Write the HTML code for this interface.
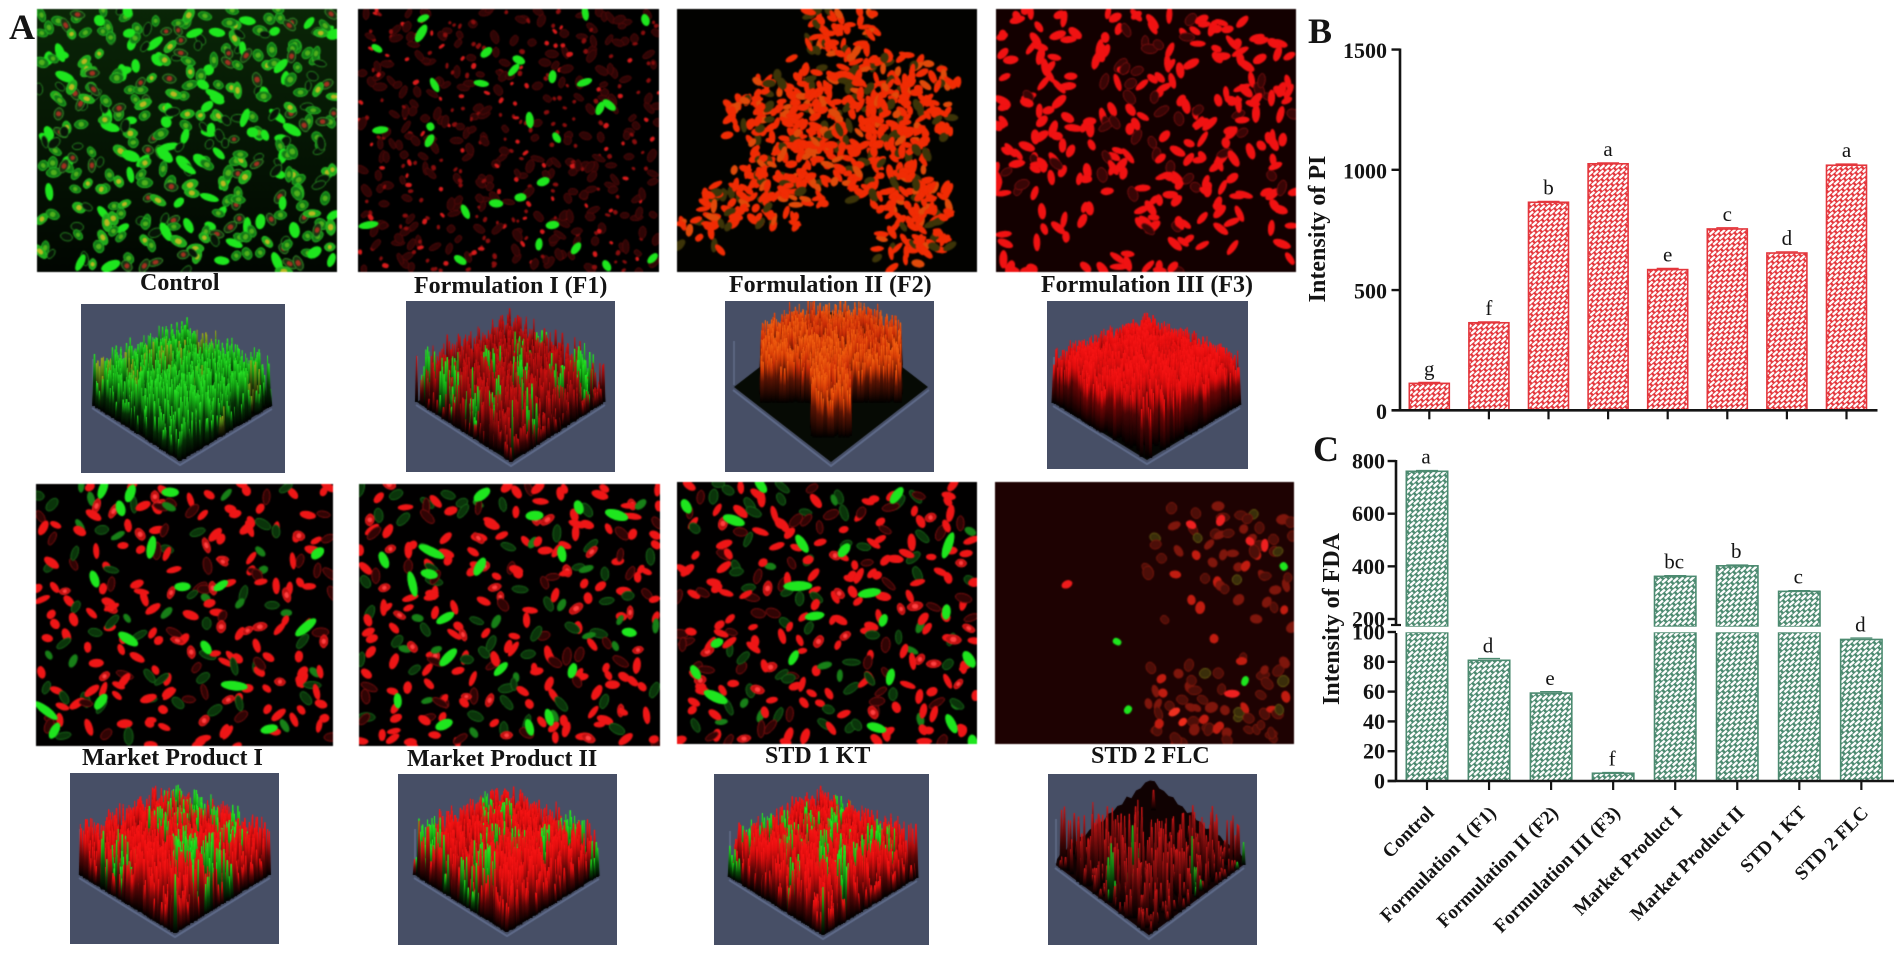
<!DOCTYPE html>
<html lang="en">
<head>
<meta charset="utf-8">
<title>Fluorescence micrographs and intensity of PI and FDA</title>
<style>
html,body{margin:0;padding:0;background:#fff;width:1902px;height:953px;overflow:hidden}
#figure{position:relative;width:1902px;height:953px;background:#fff;font-family:"Liberation Serif",serif}
canvas{position:absolute;display:block}
canvas.m{filter:blur(.55px)}
canvas.p{filter:blur(.35px)}
#overlay{position:absolute;left:0;top:0}
#overlay text{font-family:"Liberation Serif",serif;fill:#141414}
.cap{font-size:24px;font-weight:700}
.pl{font-size:36px;font-weight:700}
.tk{font-size:22px;font-weight:700}
.tt{font-size:24px;font-weight:700}
.lt{font-size:21px;font-weight:400}
.xl{font-size:19.2px;font-weight:700}
</style>
</head>
<body>
<div id="figure">
<canvas class="m" id="m0" width="300" height="263" style="left:37px;top:9px"></canvas>
<canvas class="m" id="m1" width="301" height="263" style="left:358px;top:9px"></canvas>
<canvas class="m" id="m2" width="300" height="263" style="left:677px;top:9px"></canvas>
<canvas class="m" id="m3" width="300" height="263" style="left:996px;top:9px"></canvas>
<canvas class="m" id="m4" width="297" height="262" style="left:36px;top:484px"></canvas>
<canvas class="m" id="m5" width="301" height="262" style="left:359px;top:484px"></canvas>
<canvas class="m" id="m6" width="300" height="262" style="left:677px;top:482px"></canvas>
<canvas class="m" id="m7" width="299" height="262" style="left:995px;top:482px"></canvas>

<canvas class="p" id="p0" width="204" height="169" style="left:81px;top:304px"></canvas>
<canvas class="p" id="p1" width="209" height="171" style="left:406px;top:301px"></canvas>
<canvas class="p" id="p2" width="209" height="171" style="left:725px;top:301px"></canvas>
<canvas class="p" id="p3" width="201" height="168" style="left:1047px;top:301px"></canvas>
<canvas class="p" id="p4" width="209" height="171" style="left:70px;top:773px"></canvas>
<canvas class="p" id="p5" width="219" height="171" style="left:398px;top:774px"></canvas>
<canvas class="p" id="p6" width="215" height="171" style="left:714px;top:774px"></canvas>
<canvas class="p" id="p7" width="209" height="171" style="left:1048px;top:774px"></canvas>

<svg id="overlay" width="1902" height="953" viewBox="0 0 1902 953" xmlns="http://www.w3.org/2000/svg">
<defs>
<pattern id="hatch-red" width="8.4" height="6.6" patternUnits="userSpaceOnUse" patternTransform="rotate(-42)">
<rect width="8.4" height="6.6" fill="#e4363c"/>
<rect x="0.6" y="0.5" width="6" height="2.3" fill="#fff"/>
<rect x="4.8" y="3.8" width="6" height="2.3" fill="#fff"/>
<rect x="-3.6" y="3.8" width="6" height="2.3" fill="#fff"/>
</pattern>
<pattern id="hatch-green" width="8.8" height="6.8" patternUnits="userSpaceOnUse" patternTransform="rotate(-42)">
<rect width="8.8" height="6.8" fill="#4c8a70"/>
<rect x="0.6" y="0.5" width="6.2" height="2.4" fill="#fff"/>
<rect x="5" y="3.9" width="6.2" height="2.4" fill="#fff"/>
<rect x="-3.8" y="3.9" width="6.2" height="2.4" fill="#fff"/>
</pattern>
</defs>

<text class="pl" x="9" y="39">A</text>
<text class="pl" x="1308" y="43">B</text>
<text class="pl" x="1313" y="461">C</text>

<text class="cap" x="140" y="290">Control</text>
<text class="cap" x="414" y="293">Formulation I (F1)</text>
<text class="cap" x="729" y="292">Formulation II (F2)</text>
<text class="cap" x="1041" y="292">Formulation III (F3)</text>
<text class="cap" x="82" y="765">Market Product I</text>
<text class="cap" x="407" y="766">Market Product II</text>
<text class="cap" x="765" y="763">STD 1 KT</text>
<text class="cap" x="1091" y="763">STD 2 FLC</text>

<text class="tt" transform="translate(1325,229) rotate(-90)" text-anchor="middle">Intensity of PI</text>
<text class="tt" transform="translate(1339,619) rotate(-90)" text-anchor="middle">Intensity of FDA</text>

<g id="chart-b"></g>
<g id="chart-c"></g>
</svg>
</div>

<script>
/* ---------- chart data ---------- */
const categories = ['Control','Formulation I (F1)','Formulation II (F2)','Formulation III (F3)','Market Product I','Market Product II','STD 1 KT','STD 2 FLC'];
const piValues = [112,364,865,1025,585,754,654,1019];
const piErrors = [4,4,4,4,5,5,5,5];
const piLetters = ['g','f','b','a','e','c','d','a'];
const piTicks = [0,500,1000,1500];
const fdaValues = [761,81,59,5.2,362,402,305,95];
const fdaErrors = [3,1.2,1,0.5,3,3,3,1];
const fdaLetters = ['a','d','e','f','bc','b','c','d'];
const fdaLowTicks = [0,20,40,60,80,100];
const fdaHighTicks = [200,400,600,800];

/* ---------- axis functions ---------- */
function xPI(i){return 1429.3+i*59.6;}
function yPI(v){return 410.3-v*0.2405;}
function xFDA(i){return 1427+i*62.05;}
function yFDALow(v){return 781-v*1.49;}
function yFDAHigh(v){return 619-(v-200)*0.2633;}
function yFDA(v){return v<=100?yFDALow(v):yFDAHigh(v);}

const SVGNS='http://www.w3.org/2000/svg';
const AX='#141414';
function mk(parent,tag,attrs,txt){
  const el=document.createElementNS(SVGNS,tag);
  for(const k in attrs){el.setAttribute(k,attrs[k]);}
  if(txt!==undefined){el.textContent=txt;}
  parent.appendChild(el);
  return el;
}

/* ---------- chart B ---------- */
(function(){
  const g=document.getElementById('chart-b');
  const bw=40;
  piValues.forEach(function(v,i){
    const x=xPI(i),y=yPI(v);
    const bar=mk(g,'rect',{x:x-bw/2,y:y,width:bw,height:yPI(0)-y,fill:'url(#hatch-red)',stroke:'#e4363c','stroke-width':1.6});
    
    
    const cap=mk(g,'line',{x1:x-11,x2:x+11,y1:yPI(v+piErrors[i]),y2:yPI(v+piErrors[i]),stroke:'#e4363c','stroke-width':1.2});
    
    
    const lt=mk(g,'text',{x:x,y:y-8,'text-anchor':'middle','class':'lt'},piLetters[i]);
    
    
    const tk=mk(g,'line',{x1:x,x2:x,y1:yPI(0),y2:yPI(0)+9,stroke:AX,'stroke-width':2.2});
    
    
  });
  const ya=mk(g,'line',{x1:1400,x2:1400,y1:yPI(1500)-1,y2:yPI(0)+1,stroke:AX,'stroke-width':2.6});
  
  
  const xa=mk(g,'line',{x1:1391.5,x2:1877.5,y1:yPI(0),y2:yPI(0),stroke:AX,'stroke-width':2.6});
  
  
  piTicks.forEach(function(t){
    const y=yPI(t);
    const l=mk(g,'line',{x1:1391.5,x2:1400,y1:y,y2:y,stroke:AX,'stroke-width':2.4});
    
    
    const tx=mk(g,'text',{x:1387,y:y+8.5,'text-anchor':'end','class':'tk'},String(t));
    
    
  });
})();

/* ---------- chart C ---------- */
(function(){
  const g=document.getElementById('chart-c');
  const bw=41.4,breakTop=626.7,breakBottom=632.3;
  fdaValues.forEach(function(v,i){
    const x=xFDA(i);
    const lowTop=v>100?breakBottom:yFDALow(v);
    const bar=mk(g,'rect',{x:x-bw/2,y:lowTop,width:bw,height:yFDALow(0)-lowTop,fill:'url(#hatch-green)',stroke:'#4c8a70','stroke-width':1.6});
    
    
    if(v>100){
      const up=yFDAHigh(v);
      const barHigh=mk(g,'rect',{x:x-bw/2,y:up,width:bw,height:breakTop-up,fill:'url(#hatch-green)',stroke:'#4c8a70','stroke-width':1.6});
      
      
      const wipe=mk(g,'rect',{x:x-bw/2-2,y:breakTop,width:bw+4,height:breakBottom-breakTop,fill:'#fff'});
      
      
    }
    const capY=yFDA(v+fdaErrors[i]);
    const cap=mk(g,'line',{x1:x-11,x2:x+11,y1:capY,y2:capY,stroke:'#4c8a70','stroke-width':1.2});
    
    
    const lt=mk(g,'text',{x:x-1,y:yFDA(v)-8,'text-anchor':'middle','class':'lt'},fdaLetters[i]);
    
    
    const tk=mk(g,'line',{x1:x,x2:x,y1:yFDALow(0),y2:yFDALow(0)+9,stroke:AX,'stroke-width':2.2});
    
    
    const xl=mk(g,'text',{transform:'translate('+(x+8)+',814) rotate(-45)','text-anchor':'end','class':'xl'},categories[i]);
    
    
  });
  const yaHigh=mk(g,'line',{x1:1396,x2:1396,y1:yFDAHigh(800)-1,y2:625,stroke:AX,'stroke-width':2.6});
  
  
  const yaLow=mk(g,'line',{x1:1396,x2:1396,y1:633,y2:yFDALow(0)+1,stroke:AX,'stroke-width':2.6});
  
  
  const xa=mk(g,'line',{x1:1387.6,x2:1894,y1:yFDALow(0),y2:yFDALow(0),stroke:AX,'stroke-width':2.6});
  
  
  const bk1=mk(g,'line',{x1:1391,x2:1401,y1:625,y2:625,stroke:AX,'stroke-width':2.2});
  
  
  fdaHighTicks.forEach(function(t){
    const y=yFDAHigh(t);
    const l=mk(g,'line',{x1:1387.6,x2:1396,y1:y,y2:y,stroke:AX,'stroke-width':2.4});
    
    
    const tx=mk(g,'text',{x:1385,y:y+7.5,'text-anchor':'end','class':'tk'},String(t));
    
    
  });
  fdaLowTicks.forEach(function(t){
    const y=yFDALow(t);
    const l=mk(g,'line',{x1:1387.6,x2:1396,y1:y,y2:y,stroke:AX,'stroke-width':2.4});
    
    
    const tx=mk(g,'text',{x:1385,y:y+7.5,'text-anchor':'end','class':'tk'},String(t));
    
    
  });
})();

/* ---------- photographic panels: decorative texture only, not chart data ---------- */
function rng(a){return function(){a|=0;a=a+0x6D2B79F5|0;let t=Math.imul(a^a>>>15,1|a);t=t+Math.imul(t^t>>>7,61|t)^t;return((t^t>>>14)>>>0)/4294967296;};}

function cell(ctx,x,y,L,W,ang,t){
  ctx.beginPath();
  ctx.ellipse(x,y,L/2,W/2,ang,0,Math.PI*2);
  if(t.fill){ctx.fillStyle=t.fill;ctx.fill();}
  if(t.stroke){ctx.strokeStyle=t.stroke;ctx.lineWidth=t.lw||1;ctx.stroke();}
  if(t.core){
    ctx.beginPath();
    ctx.ellipse(x,y,L/5,W/3.4,ang,0,Math.PI*2);
    ctx.fillStyle=t.core;ctx.fill();
  }
}
function pick(r,types){
  let v=r(),s=0;
  for(const t of types){s+=t.p;if(v<=s){return t;}}
  return types[types.length-1];
}
function micro(id,o){
  const c=document.getElementById(id),ctx=c.getContext('2d'),W=c.width,H=c.height,r=rng(o.seed);
  if(o.bg2){const g=ctx.createLinearGradient(0,0,0,H);g.addColorStop(0,o.bg);g.addColorStop(1,o.bg2);ctx.fillStyle=g;}else{ctx.fillStyle=o.bg;}
  ctx.fillRect(0,0,W,H);
  const rows=o.grid.length,cols=o.grid[0].length,gw=W/cols,gh=H/rows;
  for(let j=0;j<rows;j++){for(let i=0;i<cols;i++){
    const d=+o.grid[j][i]*o.k;
    let n=Math.floor(d);if(r()<d-n){n++;}
    for(let q=0;q<n;q++){
      const t=pick(r,o.types);
      const L=t.len[0]+r()*(t.len[1]-t.len[0]),Wd=t.wid[0]+r()*(t.wid[1]-t.wid[0]);
      cell(ctx,(i+r())*gw,(j+r())*gh,L,Wd,r()*Math.PI,t);
    }
  }}
  if(o.fixed){o.fixed.forEach(function(f){
    const x=(f[0]-o.ox)/2.376,y=(f[1]-o.oy)/3;
    const big=f[2]||1;
    const col=f[3]||'#1ee61e';
    const s=o.fs||1;
    cell(ctx,x,y,(14+r()*5)*big*s,(8+r()*2)*(big>1?1.05:1)*s,r()*Math.PI,{fill:col});
  });}
}
const gC='#1ee61e';
micro('m0',{seed:11,bg:'#0a2607',bg2:'#010601',k:.36,grid:[
'888888888888','888888888888','888888888888','888888888888','888888888888','777888888888','777788888888','888888888888','445666887777','556666777777','556676777777','456666666677'],
types:[
{p:.20,fill:gC,len:[11,21],wid:[7,11]},
{p:.20,fill:'#1fa81c',stroke:'#2cc826',len:[10,18],wid:[7,10],core:'#b8b820'},
{p:.30,fill:'#127a16',stroke:'#28b824',len:[10,16],wid:[7,10],core:'#50b01c'},
{p:.14,fill:'#1a3212',stroke:'#389a2c',len:[10,16],wid:[7,9],core:'#a03020'},
{p:.16,fill:'#071407',stroke:'#288a22',len:[9,15],wid:[6,9]}]});
micro('m1',{seed:23,bg:'#000',k:.7,grid:[
'555555555555','555555555555','555555555555','555555555555','555555555555','555555555555','555555555555','555555555555','555555555555','555555555555','555555555555','555555555555'],
types:[
{p:.5,fill:'#2e0505',stroke:'#520a0a',len:[8,14],wid:[5,8]},
{p:.34,fill:'#8a0e0e',len:[3,6],wid:[3,5]},
{p:.16,fill:'#d81c1c',len:[4,7],wid:[3,5]}],
ox:850,oy:27,fs:.85,fixed:[[1005,55],[1000,100,1.4],[895,145],[1155,157],[1232,180],[1220,210],[1312,230],[1143,250],[1032,255],[1388,247,1.2],[1258,360,1.2],[1425,325],[1447,315],[903,390,1.2],[1022,380,.6],[1020,422],[1322,413],[1290,545],[1236,592],[1178,610],[1105,635],[875,675,1.3],[1312,675],[1280,733],[1093,780,1.1],[1441,797],[1368,745],[1533,60],[1390,40],[1550,775]]});
micro('m2',{seed:37,bg:'#020200',k:1.5,grid:[
'000007750000','000006650000','000013577520','000788888851','008888888880','005888888860','000788888800','003888767700','088885067880','388830005880','220000005880','000000002300'],
types:[
{p:.72,fill:'#f02c04',len:[9,16],wid:[5,8]},
{p:.12,fill:'#e04a0a',len:[9,15],wid:[5,8]},
{p:.16,fill:'#3c3408',len:[10,16],wid:[6,9]}]});
micro('m3',{seed:41,bg:'#130000',k:.46,grid:[
'575157737511','475373753754','453167353353','267135731777','557157555788','763787337834','776362767655','887774777216','750126787638','115507787318','553001373102','760176640001'],
types:[
{p:.8,fill:'#f01212',len:[11,19],wid:[6,9]},
{p:.2,fill:'#380505',stroke:'#7a1010',len:[11,17],wid:[7,10]}]});
const mixTypes=[
{p:.52,fill:'#ee1616',len:[10,18],wid:[6,9]},
{p:.16,fill:'#300404',stroke:'#801010',len:[12,18],wid:[6,9]},
{p:.16,fill:'#0a340a',stroke:'#1a6a1a',len:[12,18],wid:[6,9]},
{p:.10,fill:'#c01010',stroke:'#ee2020',len:[10,16],wid:[6,9],core:'#ff4040'},
{p:.06,fill:'#188018',len:[10,16],wid:[6,8]}];
const allSix=['666666666666','666666666666','666666666666','666666666666','666666666666','666666666666','666666666666','666666666666','666666666666','666666666666','666666666666','666666666666'];
micro('m4',{seed:53,bg:'#010000',k:.29,grid:allSix,types:mixTypes,ox:86,oy:40,fixed:[[245,55,1.3],[310,68,1.2],[287,113],[360,230,1.5],[225,325,1.2],[434,348],[755,248],[305,505,1.3],[727,470,1.7],[557,645,1.8],[110,720,1.5],[240,693],[640,775],[130,780],[405,65],[525,345],[490,530]]});
micro('m5',{seed:61,bg:'#010000',k:.32,grid:allSix,types:mixTypes,ox:853,oy:40,fixed:[[1145,72,1.2],[1375,110],[1270,135],[1465,133,1.6],[1025,243,1.6],[980,340,1.6],[1140,288,1.1],[1020,310],[1058,442,1.1],[1065,560,1.5],[1495,485],[1360,600],[1305,740],[1055,762,1.2],[1258,770],[1335,250],[912,268],[1190,595],[945,690]]});
micro('m6',{seed:71,bg:'#010000',k:.32,grid:allSix,types:mixTypes,ox:63,oy:35,fixed:[[85,108],[198,150,1.6],[262,45],[585,75,1.2],[360,220,1.2],[460,240],[707,225,1.5],[350,347,1.6],[520,368,1.5],[390,437,1.2],[703,425],[553,450,.7],[158,518,.9],[340,562],[107,606,1.1],[570,620],[155,680,1.6],[757,567,1.1],[537,772,1.2],[715,760,1.4],[765,815]]});
micro('m7',{seed:83,bg:'#1e0202',k:.42,grid:[
'000000000112','000000135555','000000466775','000000335765','000000345656','000000123333','000000100121','000000101111','000000345555','000000665456','000000677767','000000678777'],
types:[
{p:.52,fill:'#4c0e08',stroke:'#7a180c',len:[9,14],wid:[7,11]},
{p:.30,fill:'#7e160c',len:[9,14],wid:[7,11]},
{p:.10,fill:'#c01c10',len:[9,13],wid:[7,10]},
{p:.08,fill:'#3a2e0a',stroke:'#665a12',len:[8,12],wid:[8,11]}],
ox:819,oy:35,fs:.85,fixed:[[1109,514,.7],[1135,718,.7],[1413,632,.8],[1505,288,.7],[990,342,.8,'#ee1c1c'],[1285,163,.9,'#ee2020'],[1355,150,.8,'#ee2020'],[1425,213,.8,'#ee2020'],[1460,225,1,'#ee2020'],[1382,670,1,'#ee2020'],[1245,725,1,'#ee3020'],[1265,755,.8,'#ee2a1a']]});

function plot3d(id,o){
  const c=document.getElementById(id),ctx=c.getContext('2d'),r=rng(o.seed);
  ctx.fillStyle='#474f66';ctx.fillRect(0,0,c.width,c.height);
  const L=o.L,B=o.B,R=o.R,T=[L[0]+R[0]-B[0],L[1]+R[1]-B[1]];
  ctx.strokeStyle='#5f6b8a';ctx.lineWidth=2;
  ctx.beginPath();ctx.moveTo(L[0]-1,L[1]+3);ctx.lineTo(B[0],B[1]+4);ctx.lineTo(R[0]+1,R[1]+3);ctx.stroke();
  ctx.strokeStyle='#5a6580';ctx.lineWidth=2;
  ctx.beginPath();ctx.moveTo(L[0],L[1]-2);ctx.lineTo(L[0],L[1]-46);ctx.stroke();
  ctx.fillStyle=o.floor||'#050603';
  ctx.beginPath();ctx.moveTo(T[0],T[1]);ctx.lineTo(R[0],R[1]);ctx.lineTo(B[0],B[1]);ctx.lineTo(L[0],L[1]);ctx.closePath();ctx.fill();
  const N=o.N||52,P=10,patch=[];
  for(let i=0;i<=P;i++){patch.push([]);for(let j=0;j<=P;j++){patch[i].push(r()<o.pAlt);}}
  if(o.terrain){
    ctx.fillStyle=o.terrain;
    ctx.beginPath();ctx.moveTo(L[0],L[1]);
    for(let s=0;s<=40;s++){const q=s/20-1;const x=T[0]+q*(R[0]-T[0]);const base=T[1]+Math.abs(q)*(L[1]-T[1]);ctx.lineTo(x,base-o.terrainH*(1-Math.abs(q)*.6)-(s%2?3:0)-r()*3);}
    ctx.lineTo(R[0],R[1]);ctx.lineTo(B[0],B[1]);ctx.closePath();ctx.fill();
  }
  const ds=o.ds||.42;
  for(let d=0;d<=2*N;d++){
    for(let i=0;i<=N;i++){
      const j=d-i;if(j<0||j>N){continue;}
      const u=i/N,v=j/N;
      if(r()>o.mask(u,v)){continue;}
      const x=T[0]+u*(R[0]-T[0])+v*(L[0]-T[0])+(r()-.5)*1.2;
      const y=T[1]+u*(R[1]-T[1])+v*(L[1]-T[1]);
      const alt=patch[Math.floor(u*P)][Math.floor(v*P)];
      const depth=.5+.5*(u+v)/2;
      const h=o.H*depth*(o.hMin+(1-o.hMin)*Math.pow(r(),o.hPow||1.3));
      const w=(o.w||1.5)+r()*1.1;
      const col=alt?o.alt:o.col;
      const g=ctx.createLinearGradient(0,y,0,y-h);
      g.addColorStop(0,'#000');g.addColorStop(ds,col[0]);g.addColorStop(.8,col[1]);g.addColorStop(1,col[2]);
      ctx.fillStyle=g;
      ctx.beginPath();ctx.moveTo(x-w,y);ctx.lineTo(x-w*.3,y-h);ctx.lineTo(x+w*.3,y-h);ctx.lineTo(x+w,y);ctx.closePath();ctx.fill();
    }
  }
}
const RED=['#5a0606','#d80e0e','#ff1818'],GRN=['#084a08','#18c018','#22f022'];
const full=function(){return .8;};
plot3d('p0',{seed:101,L:[12,101],B:[99,157],R:[190,102],H:70,hMin:.3,hPow:1.5,ds:.45,mask:function(){return .6;},col:['#063006','#14a814','#28e826'],alt:['#2a3008','#5a9014','#a0a81c'],pAlt:.1,w:1.4});
plot3d('p1',{seed:102,L:[11,101],B:[105,161],R:[198,101],H:72,hMin:.2,hPow:1.8,ds:.4,mask:function(){return .72;},col:['#3a0404','#a00c0c','#d01010'],alt:GRN,pAlt:.16,w:1.4});
plot3d('p2',{seed:103,L:[9,86],B:[106,161],R:[203,86],H:72,hMin:.55,ds:.5,floor:'#060a04',mask:function(u,v){const s=u+v,a=Math.abs(u-v);if(a>.72||s<.36){return 0;}if(a<.2){return s<1.68?.85:0;}return s<1.22?.85:0;},col:['#5a1404','#d83c06','#f46210'],alt:['#5a1404','#c82a06','#e84c0c'],pAlt:.4,w:1.4});
plot3d('p3',{seed:104,L:[7,102],B:[100,159],R:[192,104],H:76,hMin:.62,ds:.55,mask:function(u,v){return (u+v)>1.5?.16:.9;},col:['#6a0505','#e00c0c','#f81414'],alt:['#4a0505','#c00c0c','#ee1010'],pAlt:.25,w:1.5});
plot3d('p4',{seed:105,L:[10,102],B:[105,160],R:[199,102],H:78,hMin:.3,hPow:1.5,mask:full,col:['#5a0606','#e00e0e','#fa1414'],alt:GRN,pAlt:.24,w:1.5});
plot3d('p5',{seed:106,L:[17,101],B:[109,158],R:[200,102],H:76,hMin:.28,hPow:1.5,mask:full,col:['#5a0606','#e00e0e','#fa1414'],alt:GRN,pAlt:.2,w:1.5});
plot3d('p6',{seed:107,L:[16,103],B:[109,161],R:[202,104],H:74,hMin:.28,hPow:1.5,mask:full,col:['#5a0606','#e00e0e','#fa1414'],alt:GRN,pAlt:.18,w:1.5});
plot3d('p7',{seed:108,L:[8,91],B:[101,161],R:[195,91],H:84,hMin:.12,hPow:2,floor:'#0a0101',terrain:'#100202',terrainH:12,N:46,ds:.35,mask:function(u,v){const f=(u+v)/2;return f>.42?.3:.015;},col:['#380404','#961010','#d01616'],alt:['#083a08','#18a018','#22d022'],pAlt:.04,w:1.5});
</script>
</body>
</html>
